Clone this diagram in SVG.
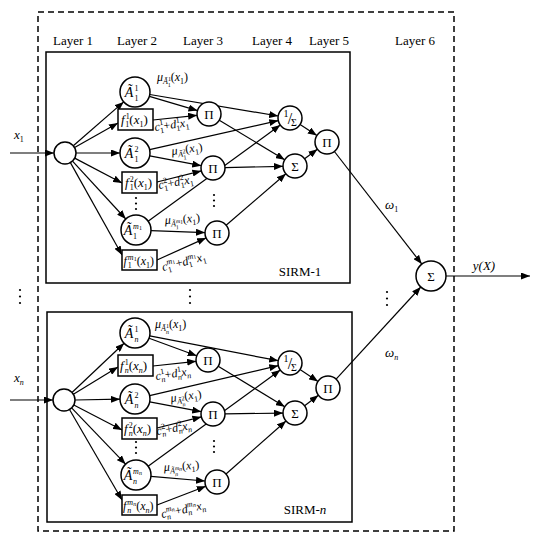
<svg xmlns="http://www.w3.org/2000/svg" width="538" height="542" viewBox="0 0 538 542" font-family="'Liberation Serif', 'Times New Roman', serif">
<defs>
<marker id="ah" markerUnits="userSpaceOnUse" markerWidth="10" markerHeight="7" refX="9" refY="3.5" orient="auto">
<path d="M0,0 L9,3.5 L0,7 z" fill="#000"/>
</marker>
<style>
text{font-family:"Liberation Serif","Times New Roman",serif;fill:#000}
.i{font-style:italic}
.s{font-size:8px}
.s2{font-size:6px}
.nd{fill:#fff;stroke:#000;stroke-width:1.5}
.bx{fill:#fff;stroke:#000;stroke-width:1.5}
.fr{fill:none;stroke:#000;stroke-width:1.5}
.dash{fill:none;stroke:#000;stroke-width:1.5;stroke-dasharray:6 4}
#connectors line{stroke:#000;stroke-width:1.2;marker-end:url(#ah)}
.dot{fill:#000}
</style>
</defs>
<rect width="538" height="542" fill="#fff"/>
<rect class="dash" x="38" y="12" width="416" height="519"/>
<g id="layers" font-size="13" text-anchor="middle">
<text x="73" y="45">Layer 1</text>
<text x="137" y="45">Layer 2</text>
<text x="203" y="45">Layer 3</text>
<text x="272" y="45">Layer 4</text>
<text x="329" y="45">Layer 5</text>
<text x="415" y="45">Layer 6</text>
</g>
<g id="sirm1-frame"><rect class="fr" x="46" y="52" width="304" height="231"/><text x="300" y="276" font-size="13" text-anchor="middle">SIRM-1</text></g>
<g id="sirmn-frame"><rect class="fr" x="47" y="312" width="305" height="210"/><text x="305" y="514" font-size="13" text-anchor="middle">SIRM-<tspan class="i">n</tspan></text></g>

<g id="connectors">
<line x1="10" y1="153" x2="54" y2="153"/>
<line x1="73.3" y1="145.8" x2="123.7" y2="101.9"/>
<line x1="74.6" y1="147.6" x2="118" y2="123"/>
<line x1="76" y1="153" x2="120" y2="153"/>
<line x1="74.7" y1="158.1" x2="122" y2="183"/>
<line x1="72.5" y1="161.1" x2="125.8" y2="219"/>
<line x1="70.4" y1="162.6" x2="122" y2="255"/>
<line x1="149.4" y1="96.3" x2="197.5" y2="110.6"/>
<line x1="153" y1="120" x2="197.1" y2="115.3"/>
<line x1="149.8" y1="94.5" x2="278.2" y2="116"/>
<line x1="149.7" y1="155.8" x2="201.2" y2="165.7"/>
<line x1="157" y1="182" x2="201.4" y2="170.9"/>
<line x1="149.6" y1="149.7" x2="278.3" y2="120.6"/>
<line x1="151" y1="230.6" x2="205" y2="232.6"/>
<line x1="157" y1="260" x2="206.1" y2="237.9"/>
<line x1="148.1" y1="221.2" x2="280.3" y2="125.1"/>
<line x1="219.3" y1="120.2" x2="284.7" y2="159.8"/>
<line x1="225" y1="167.7" x2="283" y2="166.3"/>
<line x1="226.1" y1="225.2" x2="285.9" y2="173.8"/>
<line x1="300.1" y1="124.5" x2="316.9" y2="135.5"/>
<line x1="304.6" y1="158.8" x2="317.4" y2="149.2"/>
<line x1="334.4" y1="151.5" x2="421.8" y2="264.1"/>

<line x1="10" y1="400" x2="53" y2="400"/>
<line x1="72" y1="392.5" x2="124.1" y2="343.3"/>
<line x1="73.4" y1="394.3" x2="118" y2="367"/>
<line x1="75" y1="400" x2="120" y2="399.2"/>
<line x1="73.8" y1="405" x2="122" y2="430"/>
<line x1="71.6" y1="407.9" x2="125.6" y2="464.2"/>
<line x1="69.5" y1="409.5" x2="122" y2="500"/>
<line x1="149.1" y1="338.2" x2="196.7" y2="355.8"/>
<line x1="153" y1="366" x2="196.1" y2="361.3"/>
<line x1="149.7" y1="335.9" x2="278.2" y2="360.7"/>
<line x1="149.7" y1="401.8" x2="201.2" y2="411.7"/>
<line x1="157" y1="428" x2="201.4" y2="416.9"/>
<line x1="149.6" y1="395.6" x2="278.3" y2="365.7"/>
<line x1="150.9" y1="476.3" x2="205" y2="481"/>
<line x1="157" y1="505" x2="205.8" y2="486.3"/>
<line x1="148.1" y1="466.2" x2="280.3" y2="370.1"/>
<line x1="218.2" y1="366.2" x2="284.8" y2="406.8"/>
<line x1="225" y1="413.9" x2="283" y2="413.1"/>
<line x1="226" y1="474" x2="286" y2="421"/>
<line x1="300" y1="369.6" x2="318" y2="381.4"/>
<line x1="304.6" y1="405.8" x2="318.4" y2="395.2"/>
<line x1="336.1" y1="379.2" x2="420.8" y2="287"/>

<line x1="446" y1="276" x2="530" y2="276"/>
</g>

<g id="edge-labels">
<text x="14" y="139" font-size="13"><tspan class="i">x</tspan><tspan class="s" dy="3">1</tspan></text>
<text x="14" y="382" font-size="13"><tspan class="i">x</tspan><tspan class="s i" dy="3">n</tspan></text>
<text x="385" y="209" font-size="13"><tspan class="i">ω</tspan><tspan class="s" dy="3">1</tspan></text>
<text x="385" y="357" font-size="13"><tspan class="i">ω</tspan><tspan class="s i" dy="3">n</tspan></text>
<text x="484" y="270" font-size="13" text-anchor="middle" class="i">y(X)</text>

<text x="157" y="81" font-size="12"><tspan class="i">μ</tspan><tspan class="s i" dy="3">Ã</tspan><tspan class="s2" dy="-3">1</tspan><tspan class="s2" dx="-3" dy="6">1</tspan><tspan dy="-6">(</tspan><tspan class="i">x</tspan><tspan class="s" dy="3">1</tspan><tspan dy="-3">)</tspan></text>
<text x="155" y="131" font-size="12" transform="rotate(-8 155 131)"><tspan class="i">c</tspan><tspan class="s" dy="-5">1</tspan><tspan class="s" dx="-4" dy="8">1</tspan><tspan dy="-3">+</tspan><tspan class="i">d</tspan><tspan class="s" dy="-5">1</tspan><tspan class="s" dx="-4" dy="8">1</tspan><tspan class="i" dy="-3">x</tspan><tspan class="s" dy="3">1</tspan></text>
<text x="172" y="155" font-size="12" transform="rotate(-8 172 155)"><tspan class="i">μ</tspan><tspan class="s i" dy="3">Ã</tspan><tspan class="s2" dy="-3">2</tspan><tspan class="s2" dx="-3" dy="6">1</tspan><tspan dy="-6">(</tspan><tspan class="i">x</tspan><tspan class="s" dy="3">1</tspan><tspan dy="-3">)</tspan></text>
<text x="159" y="189" font-size="12" transform="rotate(-10 159 189)"><tspan class="i">c</tspan><tspan class="s" dy="-5">2</tspan><tspan class="s" dx="-4" dy="8">1</tspan><tspan dy="-3">+</tspan><tspan class="i">d</tspan><tspan class="s" dy="-5">2</tspan><tspan class="s" dx="-4" dy="8">1</tspan><tspan class="i" dy="-3">x</tspan><tspan class="s" dy="3">1</tspan></text>
<text x="165" y="224" font-size="12" transform="rotate(-4 165 224)"><tspan class="i">μ</tspan><tspan class="s i" dy="3">Ã</tspan><tspan class="s2 i" dy="-3">m</tspan><tspan class="s2" dy="1">1</tspan><tspan class="s2" dx="-7.5" dy="5">1</tspan><tspan dx="4.5" dy="-6">(</tspan><tspan class="i">x</tspan><tspan class="s" dy="3">1</tspan><tspan dy="-3">)</tspan></text>
<text x="163" y="271" font-size="12" transform="rotate(-14 163 271)"><tspan class="i">c</tspan><tspan class="s i" dy="-5">m</tspan><tspan class="s2" dy="1">1</tspan><tspan class="s" dx="-9" dy="7">1</tspan><tspan dx="5" dy="-3">+</tspan><tspan class="i">d</tspan><tspan class="s i" dy="-5">m</tspan><tspan class="s2" dy="1">1</tspan><tspan class="s" dx="-9" dy="7">1</tspan><tspan class="i" dx="5" dy="-3">x</tspan><tspan class="s" dy="3">1</tspan></text>

<text x="155" y="328" font-size="12"><tspan class="i">μ</tspan><tspan class="s i" dy="3">Ã</tspan><tspan class="s2" dy="-3">1</tspan><tspan class="s2 i" dx="-3" dy="6">n</tspan><tspan dy="-6">(</tspan><tspan class="i">x</tspan><tspan class="s" dy="3">1</tspan><tspan dy="-3">)</tspan></text>
<text x="156" y="380" font-size="12" transform="rotate(-8 156 380)"><tspan class="i">c</tspan><tspan class="s" dy="-5">1</tspan><tspan class="s i" dx="-4" dy="8">n</tspan><tspan dy="-3">+</tspan><tspan class="i">d</tspan><tspan class="s" dy="-5">1</tspan><tspan class="s i" dx="-4" dy="8">n</tspan><tspan class="i" dy="-3">x</tspan><tspan class="s i" dy="3">n</tspan></text>
<text x="171" y="402" font-size="12" transform="rotate(-8 171 402)"><tspan class="i">μ</tspan><tspan class="s i" dy="3">Ã</tspan><tspan class="s2" dy="-3">2</tspan><tspan class="s2 i" dx="-3" dy="6">n</tspan><tspan dy="-6">(</tspan><tspan class="i">x</tspan><tspan class="s" dy="3">1</tspan><tspan dy="-3">)</tspan></text>
<text x="157" y="435" font-size="12" transform="rotate(-10 157 435)"><tspan class="i">c</tspan><tspan class="s" dy="-5">2</tspan><tspan class="s i" dx="-4" dy="8">n</tspan><tspan dy="-3">+</tspan><tspan class="i">d</tspan><tspan class="s" dy="-5">2</tspan><tspan class="s i" dx="-4" dy="8">n</tspan><tspan class="i" dy="-3">x</tspan><tspan class="s i" dy="3">n</tspan></text>
<text x="164" y="471" font-size="12" transform="rotate(-4 164 471)"><tspan class="i">μ</tspan><tspan class="s i" dy="3">Ã</tspan><tspan class="s2 i" dy="-3">m</tspan><tspan class="s2 i" dy="1">n</tspan><tspan class="s2 i" dx="-7.5" dy="5">n</tspan><tspan dx="4.5" dy="-6">(</tspan><tspan class="i">x</tspan><tspan class="s" dy="3">1</tspan><tspan dy="-3">)</tspan></text>
<text x="162" y="518" font-size="12" transform="rotate(-12 162 518)"><tspan class="i">c</tspan><tspan class="s i" dy="-5">m</tspan><tspan class="s2 i" dy="1">n</tspan><tspan class="s i" dx="-9" dy="7">n</tspan><tspan dx="5" dy="-3">+</tspan><tspan class="i">d</tspan><tspan class="s i" dy="-5">m</tspan><tspan class="s2 i" dy="1">n</tspan><tspan class="s i" dx="-9" dy="7">n</tspan><tspan class="i" dx="5" dy="-3">x</tspan><tspan class="s i" dy="3">n</tspan></text>
</g>

<g id="dots">
<circle class="dot" cx="136" cy="198" r="1.1"/><circle class="dot" cx="136" cy="203.5" r="1.1"/><circle class="dot" cx="136" cy="209" r="1.1"/>
<circle class="dot" cx="214" cy="195" r="1.1"/><circle class="dot" cx="214" cy="200.5" r="1.1"/><circle class="dot" cx="214" cy="206" r="1.1"/>
<circle class="dot" cx="136" cy="442" r="1.1"/><circle class="dot" cx="136" cy="447.5" r="1.1"/><circle class="dot" cx="136" cy="453" r="1.1"/>
<circle class="dot" cx="214" cy="441" r="1.1"/><circle class="dot" cx="214" cy="446.5" r="1.1"/><circle class="dot" cx="214" cy="452" r="1.1"/>
<circle class="dot" cx="20" cy="290" r="1.1"/><circle class="dot" cx="20" cy="296.5" r="1.1"/><circle class="dot" cx="20" cy="303" r="1.1"/>
<circle class="dot" cx="190" cy="290" r="1.1"/><circle class="dot" cx="190" cy="296.5" r="1.1"/><circle class="dot" cx="190" cy="303" r="1.1"/>
<circle class="dot" cx="387" cy="292" r="1.1"/><circle class="dot" cx="387" cy="298.5" r="1.1"/><circle class="dot" cx="387" cy="305" r="1.1"/>
</g>

<!-- SIRM-1 nodes -->
<g id="in1"><circle class="nd" cx="65" cy="153" r="11"/></g>
<g id="A11"><circle class="nd" cx="135" cy="92" r="15"/><text class="i" x="129" y="97" font-size="14" text-anchor="middle">Ã</text><text class="s" x="134.5" y="91">1</text><text class="s" x="134.5" y="101">1</text></g>
<g id="f11"><rect class="bx" x="118" y="109" width="35" height="21"/><text x="121" y="124" font-size="13"><tspan class="i">f</tspan><tspan class="s" dy="-5" dx="1">1</tspan><tspan class="s" dx="-4" dy="8">1</tspan><tspan dy="-3">(</tspan><tspan class="i">x</tspan><tspan class="s" dy="3">1</tspan><tspan dy="-3">)</tspan></text></g>
<g id="A12"><circle class="nd" cx="135" cy="153" r="15"/><text class="i" x="129" y="158" font-size="14" text-anchor="middle">Ã</text><text class="s" x="134.5" y="152">2</text><text class="s" x="134.5" y="162">1</text></g>
<g id="f12"><rect class="bx" x="122" y="172" width="35" height="21"/><text x="125" y="187" font-size="13"><tspan class="i">f</tspan><tspan class="s" dy="-5" dx="1">2</tspan><tspan class="s" dx="-4" dy="8">1</tspan><tspan dy="-3">(</tspan><tspan class="i">x</tspan><tspan class="s" dy="3">1</tspan><tspan dy="-3">)</tspan></text></g>
<g id="A1m"><circle class="nd" cx="136" cy="230" r="15"/><text class="i" x="128" y="235" font-size="14" text-anchor="middle">Ã</text><text class="s i" x="133" y="229">m</text><text class="s2" x="139" y="230">1</text><text class="s" x="133" y="239">1</text></g>
<g id="f1m"><rect class="bx" x="122" y="250" width="35" height="20"/><text x="123.5" y="264.5" font-size="12"><tspan class="i">f</tspan><tspan class="s i" dy="-5" dx="1">m</tspan><tspan class="s2" dy="1">1</tspan><tspan class="s" dx="-9" dy="7">1</tspan><tspan dx="5" dy="-3">(</tspan><tspan class="i">x</tspan><tspan class="s" dy="3">1</tspan><tspan dy="-3">)</tspan></text></g>
<g id="P11"><circle class="nd" cx="209" cy="114" r="12"/><text x="209" y="118.5" font-size="13" text-anchor="middle">Π</text></g>
<g id="P12"><circle class="nd" cx="213" cy="168" r="12"/><text x="213" y="172.5" font-size="13" text-anchor="middle">Π</text></g>
<g id="P1m"><circle class="nd" cx="217" cy="233" r="12"/><text x="217" y="237.5" font-size="13" text-anchor="middle">Π</text></g>
<g id="D1"><circle class="nd" cx="290" cy="118" r="12"/><text x="286" y="117" font-size="10" text-anchor="middle">1</text><text x="290" y="123.5" font-size="16" text-anchor="middle">/</text><text x="294" y="125.5" font-size="10" text-anchor="middle">Σ</text></g>
<g id="S1"><circle class="nd" cx="295" cy="166" r="12"/><text x="295" y="170.5" font-size="13" text-anchor="middle">Σ</text></g>
<g id="O1"><circle class="nd" cx="327" cy="142" r="12"/><text x="327" y="146.5" font-size="13" text-anchor="middle">Π</text></g>

<!-- SIRM-n nodes -->
<g id="inn"><circle class="nd" cx="64" cy="400" r="11"/></g>
<g id="An1"><circle class="nd" cx="135" cy="333" r="15"/><text class="i" x="129" y="338" font-size="14" text-anchor="middle">Ã</text><text class="s" x="134.5" y="332">1</text><text class="s i" x="134.5" y="342">n</text></g>
<g id="fn1"><rect class="bx" x="118" y="355" width="35" height="21"/><text x="120" y="370" font-size="13"><tspan class="i">f</tspan><tspan class="s" dy="-5" dx="1">1</tspan><tspan class="s i" dx="-4" dy="8">n</tspan><tspan dy="-3">(</tspan><tspan class="i">x</tspan><tspan class="s i" dy="3">n</tspan><tspan dy="-3">)</tspan></text></g>
<g id="An2"><circle class="nd" cx="135" cy="399" r="15"/><text class="i" x="129" y="404" font-size="14" text-anchor="middle">Ã</text><text class="s" x="134.5" y="398">2</text><text class="s i" x="134.5" y="408">n</text></g>
<g id="fn2"><rect class="bx" x="122" y="418" width="35" height="21"/><text x="124" y="433" font-size="13"><tspan class="i">f</tspan><tspan class="s" dy="-5" dx="1">2</tspan><tspan class="s i" dx="-4" dy="8">n</tspan><tspan dy="-3">(</tspan><tspan class="i">x</tspan><tspan class="s i" dy="3">n</tspan><tspan dy="-3">)</tspan></text></g>
<g id="Anm"><circle class="nd" cx="136" cy="475" r="15"/><text class="i" x="128" y="480" font-size="14" text-anchor="middle">Ã</text><text class="s i" x="133" y="474">m</text><text class="s2 i" x="139" y="475">n</text><text class="s i" x="133" y="484">n</text></g>
<g id="fnm"><rect class="bx" x="122" y="495" width="35" height="20"/><text x="123" y="509.5" font-size="12"><tspan class="i">f</tspan><tspan class="s i" dy="-5" dx="1">m</tspan><tspan class="s2 i" dy="1">n</tspan><tspan class="s i" dx="-9" dy="7">n</tspan><tspan dx="5" dy="-3">(</tspan><tspan class="i">x</tspan><tspan class="s i" dy="3">n</tspan><tspan dy="-3">)</tspan></text></g>
<g id="Pn1"><circle class="nd" cx="208" cy="360" r="12"/><text x="208" y="364.5" font-size="13" text-anchor="middle">Π</text></g>
<g id="Pn2"><circle class="nd" cx="213" cy="414" r="12"/><text x="213" y="418.5" font-size="13" text-anchor="middle">Π</text></g>
<g id="Pnm"><circle class="nd" cx="217" cy="482" r="12"/><text x="217" y="486.5" font-size="13" text-anchor="middle">Π</text></g>
<g id="Dn"><circle class="nd" cx="290" cy="363" r="12"/><text x="286" y="362" font-size="10" text-anchor="middle">1</text><text x="290" y="368.5" font-size="16" text-anchor="middle">/</text><text x="294" y="370.5" font-size="10" text-anchor="middle">Σ</text></g>
<g id="Sn"><circle class="nd" cx="295" cy="413" r="12"/><text x="295" y="417.5" font-size="13" text-anchor="middle">Σ</text></g>
<g id="On"><circle class="nd" cx="328" cy="388" r="12"/><text x="328" y="392.5" font-size="13" text-anchor="middle">Π</text></g>

<g id="out"><circle class="nd" cx="431" cy="276" r="15"/><text x="431" y="280.5" font-size="13" text-anchor="middle">Σ</text></g>
</svg>
